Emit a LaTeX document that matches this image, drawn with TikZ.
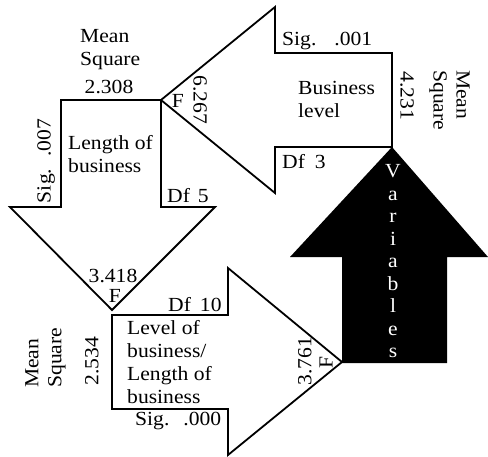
\documentclass[tikz,border=0pt]{standalone}
\usepackage{fontspec}
\setmainfont{Liberation Serif}[FakeStretch=1.08]
\begin{document}
\begin{tikzpicture}[x=1pt,y=-1pt,
  shp/.style={draw=black,fill=white,line width=1.8pt,line join=miter},
  blk/.style={fill=black},
  lbl/.style={inner sep=0pt,font=\fontsize{20}{23}\selectfont},
  mlbl/.style={lbl,align=left},
]
\useasboundingbox (0,0) rectangle (488,456);
% down arrow: Length of business
\draw[shp] (61,100) -- (161,100) -- (161,207) -- (215,207) -- (112,310) -- (10,207) -- (61,207) -- cycle;
% left arrow: Business level
\draw[shp] (161,100) -- (275,7) -- (275,53) -- (392,53) -- (392,147) -- (275,147) -- (275,193) -- cycle;
% right arrow: Level of business / Length of business
\draw[shp] (112,315) -- (228,315) -- (228,268) -- (342,362) -- (228,455) -- (228,409) -- (112,409) -- cycle;
% black up arrow: Variables
\fill[blk] (392,147) -- (488,257) -- (447,257) -- (447,363) -- (342,363) -- (342,257) -- (290,257) -- cycle;

% Length of business
\node[mlbl,anchor=north west] (ms1) at (80,29) {Mean\\Square};
\node[lbl,anchor=base] (v1) at (109,93) {2.308};
\node[lbl,anchor=base] (f1) at (178,107) {F};
\node[lbl,rotate=-90] (fv1) at (200,100) {6.267};
\node[lbl,rotate=90,anchor=base] (s1) at (50.5,161) {Sig.\hspace{0.6em}.007};
\node[mlbl,anchor=north west] (t1) at (68,135.5) {Length of\\business};
\node[lbl,anchor=base west] (d1) at (167,202) {Df\hspace{0.4em}5};

% Business level
\node[lbl,anchor=base west] (s2) at (282,45) {Sig.\hspace{0.9em}.001};
\node[mlbl,anchor=north west] (t2) at (298,81.5) {Business\\level};
\node[lbl,rotate=-90] (v2) at (407,96) {4.231};
\node[mlbl,rotate=-90,anchor=north west] (ms2) at (470,70) {Mean\\Square};
\node[lbl,anchor=base west] (d2) at (282,168) {Df\hspace{0.5em}3};

% Variables
\node[lbl,align=center,anchor=north,text=white,font=\fontsize{20}{22.5}\selectfont] (var) at (393,164.5) {V\\a\\r\\i\\a\\b\\l\\e\\s};

% Level of business / Length of business
\node[lbl,anchor=base] (f3a) at (113,282) {3.418};
\node[lbl,anchor=base] (f3) at (115,302) {F};
\node[lbl,anchor=base west] (d3) at (168,311) {Df\hspace{0.45em}10};
\node[mlbl,anchor=north west] (t3) at (127,320.5) {Level of\\business/\\Length of\\business};
\node[lbl,anchor=base west] (s3) at (135,425) {Sig.\hspace{0.7em}.000};
\node[mlbl,rotate=90,anchor=north west] (ms3) at (25,388) {Mean\\Square};
\node[lbl,rotate=90] (v3) at (92,361) {2.534};
\node[lbl,rotate=90] (fv3) at (305,361) {3.761};
\node[lbl,rotate=90] (f4) at (326,362) {F};
\end{tikzpicture}
\end{document}
